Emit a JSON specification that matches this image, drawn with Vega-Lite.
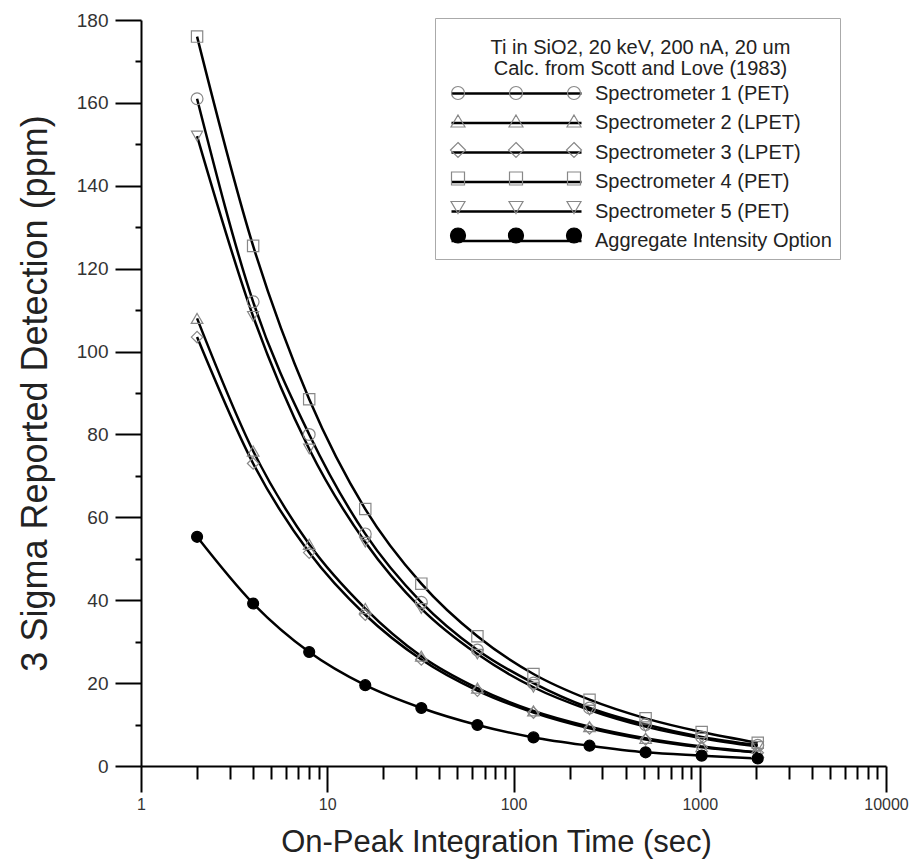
{
  "$schema": "https://vega.github.io/schema/vega-lite/v6.json",
  "width": 745,
  "height": 746,
  "autosize": {"type": "none"},
  "padding": {"left": 141, "top": 20, "right": 36, "bottom": 96},
  "background": "white",
  "config": {"view": {"stroke": null}, "font": "Liberation Sans"},
  "title": {
    "text": ["Ti in SiO2, 20 keV, 200 nA, 20 um", "Calc. from Scott and Love (1983)"],
    "orient": "top", "anchor": "middle", "frame": "group",
    "baseline": "top", "offset": 0,
    "dx": 127, "dy": 68,
    "fontSize": 20, "fontWeight": "normal", "color": "#222", "lineHeight": 21,
    "font": "Liberation Sans"
  },
  "data": {
    "values": [
      {"t": 2, "ppm": 161, "series": "Spectrometer 1 (PET)"},
      {"t": 4, "ppm": 112, "series": "Spectrometer 1 (PET)"},
      {"t": 8, "ppm": 80, "series": "Spectrometer 1 (PET)"},
      {"t": 16, "ppm": 56, "series": "Spectrometer 1 (PET)"},
      {"t": 32, "ppm": 39.5, "series": "Spectrometer 1 (PET)"},
      {"t": 64, "ppm": 28, "series": "Spectrometer 1 (PET)"},
      {"t": 128, "ppm": 20, "series": "Spectrometer 1 (PET)"},
      {"t": 256, "ppm": 14, "series": "Spectrometer 1 (PET)"},
      {"t": 512, "ppm": 10, "series": "Spectrometer 1 (PET)"},
      {"t": 1024, "ppm": 7, "series": "Spectrometer 1 (PET)"},
      {"t": 2048, "ppm": 5, "series": "Spectrometer 1 (PET)"},
      {"t": 2, "ppm": 108, "series": "Spectrometer 2 (LPET)"},
      {"t": 4, "ppm": 76, "series": "Spectrometer 2 (LPET)"},
      {"t": 8, "ppm": 53.5, "series": "Spectrometer 2 (LPET)"},
      {"t": 16, "ppm": 38, "series": "Spectrometer 2 (LPET)"},
      {"t": 32, "ppm": 26.5, "series": "Spectrometer 2 (LPET)"},
      {"t": 64, "ppm": 18.8, "series": "Spectrometer 2 (LPET)"},
      {"t": 128, "ppm": 13.3, "series": "Spectrometer 2 (LPET)"},
      {"t": 256, "ppm": 9.5, "series": "Spectrometer 2 (LPET)"},
      {"t": 512, "ppm": 6.7, "series": "Spectrometer 2 (LPET)"},
      {"t": 1024, "ppm": 4.7, "series": "Spectrometer 2 (LPET)"},
      {"t": 2048, "ppm": 3.3, "series": "Spectrometer 2 (LPET)"},
      {"t": 2, "ppm": 103.5, "series": "Spectrometer 3 (LPET)"},
      {"t": 4, "ppm": 73, "series": "Spectrometer 3 (LPET)"},
      {"t": 8, "ppm": 51.5, "series": "Spectrometer 3 (LPET)"},
      {"t": 16, "ppm": 36.5, "series": "Spectrometer 3 (LPET)"},
      {"t": 32, "ppm": 25.7, "series": "Spectrometer 3 (LPET)"},
      {"t": 64, "ppm": 18.2, "series": "Spectrometer 3 (LPET)"},
      {"t": 128, "ppm": 12.9, "series": "Spectrometer 3 (LPET)"},
      {"t": 256, "ppm": 9.1, "series": "Spectrometer 3 (LPET)"},
      {"t": 512, "ppm": 6.4, "series": "Spectrometer 3 (LPET)"},
      {"t": 1024, "ppm": 4.5, "series": "Spectrometer 3 (LPET)"},
      {"t": 2048, "ppm": 3.2, "series": "Spectrometer 3 (LPET)"},
      {"t": 2, "ppm": 176, "series": "Spectrometer 4 (PET)"},
      {"t": 4, "ppm": 125.5, "series": "Spectrometer 4 (PET)"},
      {"t": 8, "ppm": 88.5, "series": "Spectrometer 4 (PET)"},
      {"t": 16, "ppm": 62, "series": "Spectrometer 4 (PET)"},
      {"t": 32, "ppm": 44, "series": "Spectrometer 4 (PET)"},
      {"t": 64, "ppm": 31.3, "series": "Spectrometer 4 (PET)"},
      {"t": 128, "ppm": 22.2, "series": "Spectrometer 4 (PET)"},
      {"t": 256, "ppm": 16, "series": "Spectrometer 4 (PET)"},
      {"t": 512, "ppm": 11.5, "series": "Spectrometer 4 (PET)"},
      {"t": 1024, "ppm": 8.2, "series": "Spectrometer 4 (PET)"},
      {"t": 2048, "ppm": 5.6, "series": "Spectrometer 4 (PET)"},
      {"t": 2, "ppm": 152, "series": "Spectrometer 5 (PET)"},
      {"t": 4, "ppm": 108.5, "series": "Spectrometer 5 (PET)"},
      {"t": 8, "ppm": 76.5, "series": "Spectrometer 5 (PET)"},
      {"t": 16, "ppm": 54, "series": "Spectrometer 5 (PET)"},
      {"t": 32, "ppm": 38, "series": "Spectrometer 5 (PET)"},
      {"t": 64, "ppm": 27, "series": "Spectrometer 5 (PET)"},
      {"t": 128, "ppm": 19, "series": "Spectrometer 5 (PET)"},
      {"t": 256, "ppm": 13.5, "series": "Spectrometer 5 (PET)"},
      {"t": 512, "ppm": 9.5, "series": "Spectrometer 5 (PET)"},
      {"t": 1024, "ppm": 6.7, "series": "Spectrometer 5 (PET)"},
      {"t": 2048, "ppm": 4.7, "series": "Spectrometer 5 (PET)"},
      {"t": 2, "ppm": 55.3, "series": "Aggregate Intensity Option"},
      {"t": 4, "ppm": 39.2, "series": "Aggregate Intensity Option"},
      {"t": 8, "ppm": 27.5, "series": "Aggregate Intensity Option"},
      {"t": 16, "ppm": 19.5, "series": "Aggregate Intensity Option"},
      {"t": 32, "ppm": 14, "series": "Aggregate Intensity Option"},
      {"t": 64, "ppm": 9.9, "series": "Aggregate Intensity Option"},
      {"t": 128, "ppm": 6.9, "series": "Aggregate Intensity Option"},
      {"t": 256, "ppm": 4.9, "series": "Aggregate Intensity Option"},
      {"t": 512, "ppm": 3.3, "series": "Aggregate Intensity Option"},
      {"t": 1024, "ppm": 2.5, "series": "Aggregate Intensity Option"},
      {"t": 2048, "ppm": 1.8, "series": "Aggregate Intensity Option"}
    ]
  },
  "resolve": {
    "scale": {"shape": "independent", "fill": "independent", "stroke": "independent", "size": "independent"},
    "axis": {"x": "independent", "y": "independent"}
  },
  "layer": [
    {
      "mark": {"type": "line", "interpolate": "monotone", "strokeWidth": 2.5},
      "encoding": {
        "x": {
          "field": "t", "type": "quantitative",
          "scale": {"type": "log", "domain": [1, 10000], "nice": false},
          "axis": {
            "orient": "bottom",
            "values": [1, 10, 100, 1000, 10000],
            "labelExpr": "format(datum.value, 'd')",
            "tickSize": 26, "tickWidth": 2, "tickColor": "black",
            "domainWidth": 2, "domainColor": "black",
            "labelFontSize": 16, "labelColor": "#333", "labelPadding": 4,
            "labelFlush": false,
            "grid": false,
            "title": "On-Peak Integration Time (sec)",
            "titleFontSize": 31, "titleFontWeight": "normal", "titleColor": "#222",
            "titleX": 355, "titleAlign": "center", "titlePadding": 15
          }
        },
        "y": {
          "field": "ppm", "type": "quantitative",
          "scale": {"domain": [0, 180], "nice": false},
          "axis": {
            "orient": "left",
            "values": [0, 20, 40, 60, 80, 100, 120, 140, 160, 180],
            "tickSize": 26, "tickWidth": 2, "tickColor": "black",
            "domainWidth": 2, "domainColor": "black",
            "labelFontSize": 19, "labelColor": "#333", "labelPadding": 7,
            "labelFlush": false,
            "grid": false,
            "title": "3 Sigma Reported Detection (ppm)",
            "titleFontSize": 36, "titleFontWeight": "normal", "titleColor": "#222", "titlePadding": 22
          }
        },
        "color": {
          "field": "series", "type": "nominal",
          "scale": {
            "domain": ["Spectrometer 1 (PET)", "Spectrometer 2 (LPET)", "Spectrometer 3 (LPET)", "Spectrometer 4 (PET)", "Spectrometer 5 (PET)", "Aggregate Intensity Option"],
            "range": ["black", "black", "black", "black", "black", "black"]
          },
          "legend": {
            "orient": "none", "legendX": 294, "legendY": -2,
            "title": ["\u00a0", "\u00a0"],
            "titleFontSize": 20, "titleFontWeight": "normal", "titleOpacity": 0, "titleLimit": 0,
            "titleAnchor": "middle", "titleAlign": "center", "titleLineHeight": 21, "titlePadding": 15,
            "symbolType": "M-6.5,0L6.5,0", "symbolSize": 400, "symbolStrokeWidth": 2.5,
            "symbolFillColor": "transparent",
            "labelFontSize": 20, "labelColor": "#222", "labelOffset": 67, "labelLimit": 0,
            "symbolOffset": 62,
            "rowPadding": 7.5,
            "padding": 8,
            "strokeColor": "#aaa"
          }
        }
      }
    },
    {
      "mark": {"type": "point", "strokeWidth": 1.2, "opacity": 1},
      "encoding": {
        "x": {"field": "t", "type": "quantitative", "axis": null},
        "y": {"field": "ppm", "type": "quantitative", "axis": null},
        "shape": {
          "field": "series", "type": "nominal",
          "scale": {
            "domain": ["Spectrometer 1 (PET)", "Spectrometer 2 (LPET)", "Spectrometer 3 (LPET)", "Spectrometer 4 (PET)", "Spectrometer 5 (PET)", "Aggregate Intensity Option"],
            "range": ["circle", "triangle-up", "diamond", "square", "triangle-down", "circle"]
          },
          "legend": null
        },
        "fill": {
          "field": "series", "type": "nominal",
          "scale": {
            "domain": ["Spectrometer 1 (PET)", "Spectrometer 2 (LPET)", "Spectrometer 3 (LPET)", "Spectrometer 4 (PET)", "Spectrometer 5 (PET)", "Aggregate Intensity Option"],
            "range": ["transparent", "transparent", "transparent", "transparent", "transparent", "black"]
          },
          "legend": null
        },
        "stroke": {
          "field": "series", "type": "nominal",
          "scale": {
            "domain": ["Spectrometer 1 (PET)", "Spectrometer 2 (LPET)", "Spectrometer 3 (LPET)", "Spectrometer 4 (PET)", "Spectrometer 5 (PET)", "Aggregate Intensity Option"],
            "range": ["#888", "#888", "#888", "#888", "#888", "black"]
          },
          "legend": null
        },
        "size": {
          "field": "series", "type": "nominal",
          "scale": {
            "domain": ["Spectrometer 1 (PET)", "Spectrometer 2 (LPET)", "Spectrometer 3 (LPET)", "Spectrometer 4 (PET)", "Spectrometer 5 (PET)", "Aggregate Intensity Option"],
            "range": [140, 120, 150, 210, 120, 170]
          },
          "legend": null
        }
      }
    },
    {
      "transform": [{"filter": "false"}],
      "mark": {"type": "point", "strokeWidth": 1.2, "opacity": 1},
      "encoding": {
        "x": {"field": "t", "type": "quantitative", "axis": null},
        "y": {"field": "ppm", "type": "quantitative", "axis": null},
        "shape": {
          "field": "series", "type": "nominal",
          "scale": {
            "domain": ["Spectrometer 1 (PET)", "Spectrometer 2 (LPET)", "Spectrometer 3 (LPET)", "Spectrometer 4 (PET)", "Spectrometer 5 (PET)", "Aggregate Intensity Option"],
            "range": [
              "M-6.45,0a0.65,0.65 0 1,0 1.3,0a0.65,0.65 0 1,0 -1.3,0M-0.65,0a0.65,0.65 0 1,0 1.3,0a0.65,0.65 0 1,0 -1.3,0M5.15,0a0.65,0.65 0 1,0 1.3,0a0.65,0.65 0 1,0 -1.3,0",
              "M-5.8,-0.65L-5.1,0.55L-6.5,0.55ZM0,-0.65L0.7,0.55L-0.7,0.55ZM5.8,-0.65L6.5,0.55L5.1,0.55Z",
              "M-5.8,-0.75L-5.05,0L-5.8,0.75L-6.55,0ZM0,-0.75L0.75,0L0,0.75L-0.75,0ZM5.8,-0.75L6.55,0L5.8,0.75L5.05,0Z",
              "M-6.45,-0.65h1.3v1.3h-1.3ZM-0.65,-0.65h1.3v1.3h-1.3ZM5.15,-0.65h1.3v1.3h-1.3Z",
              "M-5.8,0.65L-5.1,-0.55L-6.5,-0.55ZM0,0.65L0.7,-0.55L-0.7,-0.55ZM5.8,0.65L6.5,-0.55L5.1,-0.55Z",
              "M-6.55,0a0.75,0.75 0 1,0 1.5,0a0.75,0.75 0 1,0 -1.5,0M-0.75,0a0.75,0.75 0 1,0 1.5,0a0.75,0.75 0 1,0 -1.5,0M5.05,0a0.75,0.75 0 1,0 1.5,0a0.75,0.75 0 1,0 -1.5,0"
            ]
          },
          "legend": {
            "orient": "none", "legendX": 294, "legendY": -2,
            "title": ["\u00a0", "\u00a0"],
            "titleFontSize": 20, "titleFontWeight": "normal", "titleOpacity": 0, "titleLimit": 0,
            "titleAnchor": "middle", "titleAlign": "center", "titleLineHeight": 21, "titlePadding": 15,
            "symbolSize": 400, "symbolStrokeWidth": 1.2,
            "labelFontSize": 20, "labelOpacity": 0, "labelOffset": 67, "labelLimit": 0,
            "labelExpr": "'\u00a0'",
            "symbolOffset": 62,
            "rowPadding": 7.5,
            "padding": 8
          }
        },
        "fill": {
          "field": "series", "type": "nominal",
          "scale": {
            "domain": ["Spectrometer 1 (PET)", "Spectrometer 2 (LPET)", "Spectrometer 3 (LPET)", "Spectrometer 4 (PET)", "Spectrometer 5 (PET)", "Aggregate Intensity Option"],
            "range": ["transparent", "transparent", "transparent", "transparent", "transparent", "black"]
          },
          "legend": {
            "orient": "none", "legendX": 294, "legendY": -2,
            "title": ["\u00a0", "\u00a0"],
            "titleFontSize": 20, "titleFontWeight": "normal", "titleOpacity": 0, "titleLimit": 0,
            "titleAnchor": "middle", "titleAlign": "center", "titleLineHeight": 21, "titlePadding": 15,
            "symbolSize": 400, "symbolStrokeWidth": 1.2,
            "labelFontSize": 20, "labelOpacity": 0, "labelOffset": 67, "labelLimit": 0,
            "labelExpr": "'\u00a0'",
            "symbolOffset": 62,
            "rowPadding": 7.5,
            "padding": 8
          }
        },
        "stroke": {
          "field": "series", "type": "nominal",
          "scale": {
            "domain": ["Spectrometer 1 (PET)", "Spectrometer 2 (LPET)", "Spectrometer 3 (LPET)", "Spectrometer 4 (PET)", "Spectrometer 5 (PET)", "Aggregate Intensity Option"],
            "range": ["#888", "#888", "#888", "#888", "#888", "black"]
          },
          "legend": {
            "orient": "none", "legendX": 294, "legendY": -2,
            "title": ["\u00a0", "\u00a0"],
            "titleFontSize": 20, "titleFontWeight": "normal", "titleOpacity": 0, "titleLimit": 0,
            "titleAnchor": "middle", "titleAlign": "center", "titleLineHeight": 21, "titlePadding": 15,
            "symbolSize": 400, "symbolStrokeWidth": 1.2,
            "labelFontSize": 20, "labelOpacity": 0, "labelOffset": 67, "labelLimit": 0,
            "labelExpr": "'\u00a0'",
            "symbolOffset": 62,
            "rowPadding": 7.5,
            "padding": 8
          }
        }
      }
    },
    {
      "transform": [{"filter": "false"}],
      "mark": {"type": "point", "opacity": 0},
      "encoding": {
        "x": {
          "field": "t", "type": "quantitative",
          "axis": {
            "orient": "bottom",
            "values": [2, 3, 4, 5, 6, 7, 8, 9, 20, 30, 40, 50, 60, 70, 80, 90, 200, 300, 400, 500, 600, 700, 800, 900, 2000, 3000, 4000, 5000, 6000, 7000, 8000, 9000],
            "tickSize": 13, "tickWidth": 2, "tickColor": "black",
            "domain": false, "labels": false, "grid": false, "title": null
          }
        },
        "y": {
          "field": "ppm", "type": "quantitative",
          "axis": {
            "orient": "left",
            "values": [10, 30, 50, 70, 90, 110, 130, 150, 170],
            "tickSize": 6, "tickWidth": 2, "tickColor": "black",
            "domain": false, "labels": false, "grid": false, "title": null
          }
        }
      }
    }
  ]
}
